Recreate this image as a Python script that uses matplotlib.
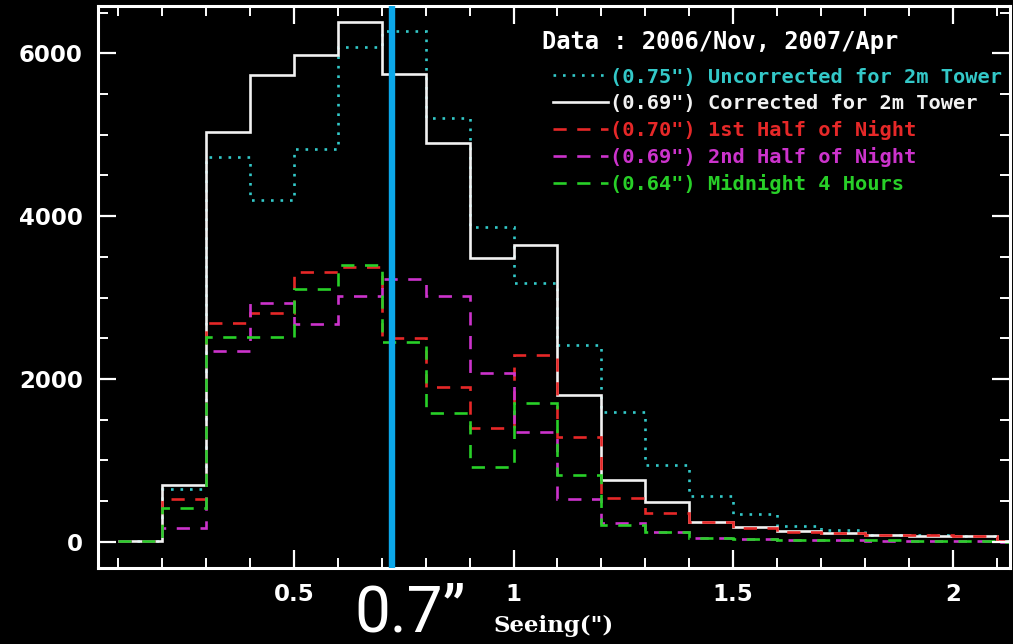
import numpy as np
import matplotlib
matplotlib.use("Agg")
import matplotlib.pyplot as plt
from matplotlib.lines import Line2D
from matplotlib.ticker import MultipleLocator

# bin edges of the seeing histograms (arcsec)
bin_edges = [0.1, 0.2, 0.3, 0.4, 0.5, 0.6, 0.7, 0.8, 0.9, 1.0, 1.1,
             1.2, 1.3, 1.4, 1.5, 1.6, 1.7, 1.8, 1.9, 2.0, 2.1, 2.2]

uncorrected = [10, 650, 4720, 4200, 4830, 6080, 6270, 5210, 3870, 3180, 2420,
               1600, 940, 560, 340, 200, 150, 90, 80, 70, 15]
corrected = [10, 700, 5030, 5730, 5980, 6380, 5750, 4900, 3490, 3650, 1800,
             760, 490, 250, 180, 130, 110, 90, 75, 70, 15]
first_half = [10, 530, 2690, 2810, 3310, 3380, 2500, 1900, 1400, 2300, 1290,
              540, 360, 240, 170, 120, 110, 80, 80, 75, 15]
second_half = [10, 170, 2340, 2930, 2680, 3020, 3230, 3020, 2080, 1350, 530,
               230, 120, 50, 30, 25, 20, 15, 12, 10, 5]
midnight = [10, 420, 2520, 2520, 3110, 3400, 2460, 1580, 920, 1710, 820,
            210, 125, 50, 35, 25, 20, 18, 15, 15, 5]

labels = ['(0.75") Uncorrected for 2m Tower',
          '(0.69") Corrected for 2m Tower',
          '(0.70") 1st Half of Night',
          '(0.69") 2nd Half of Night',
          '(0.64") Midnight 4 Hours']
legend_title = 'Data : 2006/Nov, 2007/Apr'
marker_seeing = 0.723
marker_text = '0.7\u201d'

series = [uncorrected, corrected, first_half, second_half, midnight]
colors = ['#33c8c8', '#f2f2f2', '#e62828', '#cc33cc', '#28d028']
styles = [(0, (1, 2.6)), '-', (0, (5, 4)), (0, (5, 4)), (0, (5, 4))]

fig = plt.figure(figsize=(10.13, 6.44), dpi=100, facecolor='black')
ax = fig.add_axes([0.0967, 0.118, 0.9003, 0.8727], facecolor='black')

handles = []
for vals, col, ls, lab in zip(series, colors, styles, labels):
    ax.stairs(vals, bin_edges, baseline=None, color=col, linestyle=ls, lw=1.9)
    handles.append(Line2D([], [], color=col, linestyle=ls, lw=1.9, label=lab))

ax.axvline(marker_seeing, color='#0ca8ea', lw=4.6, zorder=5)

ax.set_xlim(0.054, 2.13)
ax.set_ylim(-320, 6580)
ax.xaxis.set_major_locator(MultipleLocator(0.5))
ax.xaxis.set_minor_locator(MultipleLocator(0.1))
ax.yaxis.set_major_locator(MultipleLocator(2000))
ax.yaxis.set_minor_locator(MultipleLocator(500))
ax.xaxis.set_major_formatter(plt.FuncFormatter(lambda v, p: f'{v:g}'))

ax.tick_params(which='both', direction='in', top=True, right=True,
               colors='white', labelsize=16.5)
ax.tick_params(which='major', length=13, width=1.6, pad=11)
ax.tick_params(which='minor', length=7, width=1.4)
for lab in ax.get_xticklabels() + ax.get_yticklabels():
    lab.set_fontweight('bold')
for sp in ax.spines.values():
    sp.set_color('white')
    sp.set_linewidth(2.2)

ax.set_xlabel('Seeing(")', color='white', fontsize=16.5, fontweight='bold',
              family='DejaVu Serif', labelpad=6)

ax.text(0.487, 0.936, legend_title, transform=ax.transAxes, color='white',
        family='DejaVu Sans Mono', fontweight='bold', fontsize=17,
        ha='left', va='center')

ax.legend(handles=handles, loc='upper left', bbox_to_anchor=(0.490, 0.905),
          frameon=False, labelcolor='linecolor', handlelength=2.7,
          handletextpad=0.1, labelspacing=0.35, borderaxespad=0.0,
          prop={'family': 'DejaVu Sans Mono', 'weight': 'bold', 'size': 14.7})

fig.text(0.350, 0.020, marker_text, color='white', fontsize=46,
         family='Roboto', ha='left', va='baseline')

fig.savefig('out.png', dpi=100, facecolor='black')
